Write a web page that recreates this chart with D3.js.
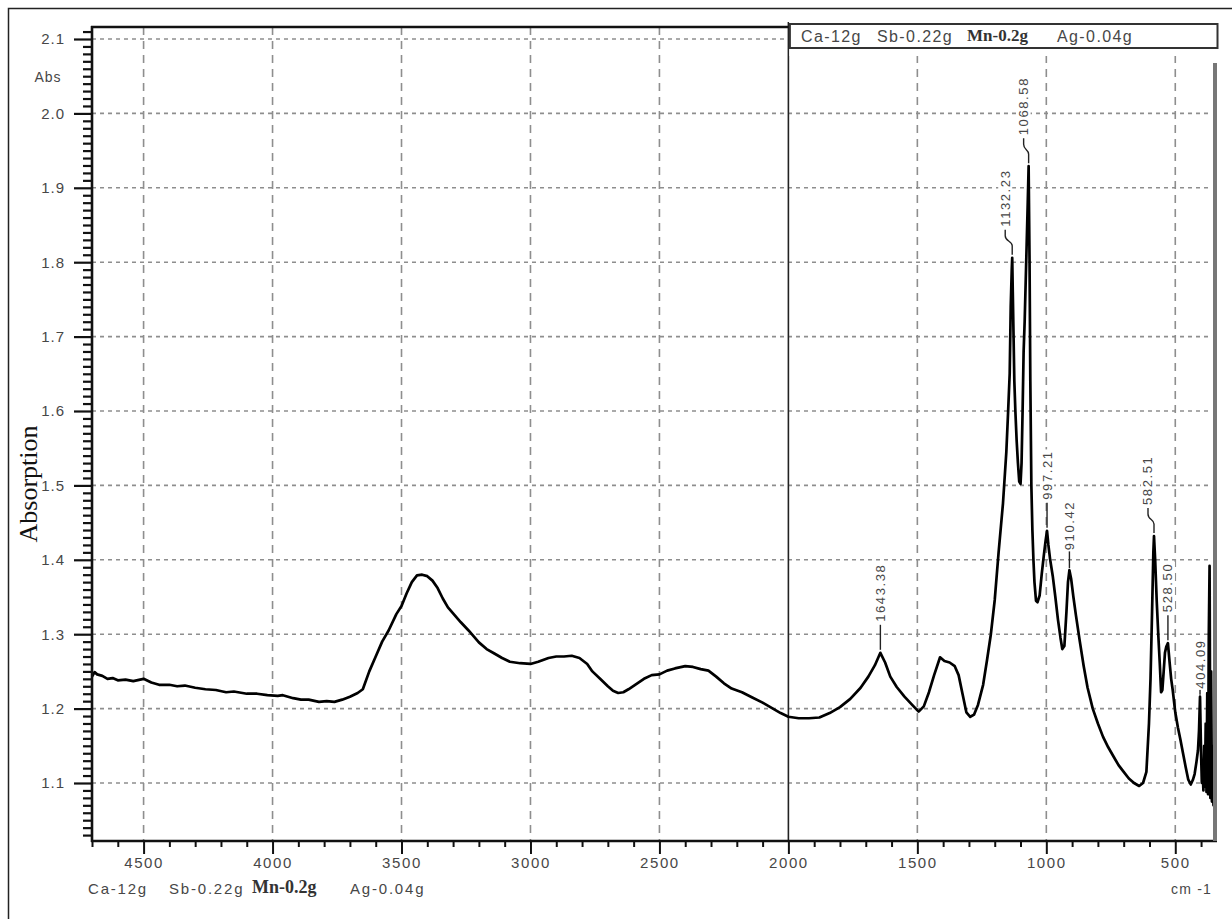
<!DOCTYPE html>
<html>
<head>
<meta charset="utf-8">
<script src="https://cdn.jsdelivr.net/npm/d3@7/dist/d3.min.js"></script>
<style>
  html, body { margin: 0; padding: 0; background: #fff; }
  svg { display: block; }
  text { font-family: "Liberation Sans", Arial, sans-serif; }
</style>
</head>
<body>
<svg id="chart" width="1232" height="919"></svg>
<script>
// FTIR absorption spectrum: wavenumber (cm-1) and absorbance (Abs)
const wavenumbers = [
  4700, 4690, 4680, 4660, 4640, 4620, 4600, 4570, 4540, 4500,
  4470, 4440, 4400, 4370, 4340, 4300, 4260, 4220, 4180, 4150,
  4100, 4060, 4020, 3980, 3960, 3920, 3890, 3860, 3820, 3790,
  3760, 3730, 3700, 3670, 3650, 3625, 3600, 3575, 3550, 3520,
  3500, 3480, 3460, 3440, 3420, 3400, 3380, 3360, 3340, 3320,
  3300, 3270, 3240, 3200, 3170, 3140, 3110, 3080, 3040, 3000,
  2970, 2930, 2900, 2870, 2840, 2810, 2780, 2760, 2730, 2700,
  2680, 2660, 2640, 2620, 2590, 2560, 2530, 2500, 2470, 2440,
  2400, 2370, 2340, 2310, 2280, 2250, 2220, 2180, 2140, 2100,
  2060, 2030, 2000, 1960, 1920, 1880, 1840, 1800, 1760, 1720,
  1690, 1665, 1643.38, 1625, 1605, 1580, 1550, 1520, 1495, 1475,
  1455, 1435, 1412, 1395, 1375, 1355, 1340, 1325, 1310, 1295,
  1280, 1265, 1245, 1230, 1215, 1200, 1185, 1168, 1155, 1148,
  1142, 1138, 1134, 1132.23, 1130, 1127, 1124, 1120, 1115, 1110,
  1105, 1100, 1096, 1092, 1088, 1084, 1078, 1072, 1068.58, 1065,
  1062, 1058, 1054, 1050, 1046, 1040, 1034, 1026, 1018, 1010,
  1003, 997.21, 992, 985, 975, 965, 955, 945, 938, 930,
  922, 916, 910.42, 904, 895, 885, 870, 855, 840, 820,
  800, 780, 760, 740, 720, 700, 680, 660, 640, 625,
  612, 602, 596, 590, 585, 582.51, 578, 572, 566, 560,
  555, 550, 545, 540, 535, 528.50, 522, 516, 510, 500,
  490, 480, 470, 460, 450, 440, 432, 425, 418, 412,
  408, 404.09, 400, 397, 394, 391, 388, 385, 382, 379,
  376, 373, 370, 367, 364, 361, 358, 355, 352, 349
];
const absorbance = [
  1.243, 1.249, 1.246, 1.244, 1.240, 1.241, 1.238, 1.239, 1.237, 1.240,
  1.235, 1.232, 1.232, 1.230, 1.231, 1.228, 1.226, 1.225, 1.222, 1.223,
  1.220, 1.220, 1.218, 1.217, 1.218, 1.214, 1.212, 1.212, 1.209, 1.210,
  1.209, 1.212, 1.216, 1.221, 1.226, 1.250, 1.270, 1.290, 1.305, 1.327,
  1.338, 1.355, 1.370, 1.379, 1.380, 1.378, 1.372, 1.362, 1.348, 1.336,
  1.328, 1.316, 1.305, 1.289, 1.280, 1.274, 1.268, 1.263, 1.261, 1.260,
  1.263, 1.268, 1.270, 1.270, 1.271, 1.268, 1.260, 1.250, 1.240, 1.230,
  1.224, 1.221, 1.222, 1.226, 1.233, 1.240, 1.245, 1.246, 1.251, 1.254,
  1.257, 1.256, 1.253, 1.251, 1.243, 1.234, 1.227, 1.222, 1.215, 1.208,
  1.200, 1.194, 1.189, 1.187, 1.187, 1.188, 1.194, 1.202, 1.213, 1.228,
  1.243, 1.258, 1.275, 1.262, 1.243, 1.229, 1.216, 1.205, 1.196, 1.203,
  1.222, 1.245, 1.269, 1.264, 1.262, 1.257, 1.245, 1.220, 1.195, 1.189,
  1.192, 1.205, 1.232, 1.265, 1.300, 1.346, 1.410, 1.476, 1.545, 1.600,
  1.650, 1.740, 1.790, 1.806, 1.760, 1.700, 1.640, 1.600, 1.560, 1.530,
  1.505, 1.502, 1.530, 1.600, 1.680, 1.720, 1.800, 1.880, 1.929, 1.800,
  1.640, 1.500, 1.440, 1.400, 1.370, 1.345, 1.343, 1.352, 1.380, 1.405,
  1.425, 1.439, 1.420, 1.400, 1.378, 1.350, 1.320, 1.295, 1.280, 1.284,
  1.330, 1.370, 1.386, 1.375, 1.350, 1.325, 1.290, 1.257, 1.228, 1.200,
  1.180, 1.162, 1.148, 1.136, 1.124, 1.115, 1.106, 1.100, 1.096, 1.100,
  1.115, 1.180, 1.240, 1.330, 1.410, 1.432, 1.400, 1.345, 1.300, 1.260,
  1.222, 1.225, 1.250, 1.275, 1.283, 1.288, 1.262, 1.240, 1.225, 1.195,
  1.175, 1.158, 1.140, 1.122, 1.105, 1.098, 1.104, 1.112, 1.128, 1.144,
  1.170, 1.216, 1.140, 1.100, 1.120, 1.090, 1.150, 1.095, 1.180, 1.088,
  1.221, 1.085, 1.300, 1.392, 1.080, 1.250, 1.075, 1.150, 1.070, 1.075
];

// Labelled band positions
const peakWavenumbers = [1643.38, 1132.23, 1068.58, 997.21, 910.42, 582.51, 528.50, 404.09];
const peakAbsorbance  = [1.275, 1.806, 1.929, 1.439, 1.386, 1.432, 1.288, 1.216];

// Axis ticks
const xTickValues = [4500, 4000, 3500, 3000, 2500, 2000, 1500, 1000, 500];
const yTickValues = [1.1, 1.2, 1.3, 1.4, 1.5, 1.6, 1.7, 1.8, 1.9, 2.0, 2.1];
const yTickLabels = ["1.1", "1.2", "1.3", "1.4", "1.5", "1.6", "1.7", "1.8", "1.9", "2.0", "2.1"];

// Sample composition
const sampleParts = ["Ca-12g", "Sb-0.22g", "Mn-0.2g", "Ag-0.04g"];

const svg = d3.select("#chart");
const L = 92, R = 1215, T = 27, B = 841;
const labelInk = "#474747";

const x = d3.scaleLinear().domain([4700, 346]).range([L, R]);
const y = d3.scaleLinear().domain([1.1, 2.1]).range([783, 39]);

// outer frame
svg.append("rect")
  .attr("x", 8.5).attr("y", 8.5).attr("width", 1260).attr("height", 940)
  .attr("fill", "none").attr("stroke", "#222").attr("stroke-width", 1.5);

// grid
const grid = svg.append("g");
grid.selectAll("line.h").data(yTickValues).join("line")
  .attr("x1", L).attr("x2", R - 3)
  .attr("y1", d => y(d)).attr("y2", d => y(d))
  .attr("stroke", "#8e8e8e").attr("stroke-width", 1.6)
  .attr("stroke-dasharray", "4,4");
grid.selectAll("line.v").data(xTickValues.filter(v => v !== 2000)).join("line")
  .attr("x1", d => x(d)).attr("x2", d => x(d))
  .attr("y1", T).attr("y2", B)
  .attr("stroke", "#8e8e8e").attr("stroke-width", 1.6)
  .attr("stroke-dasharray", "8,6");

// solid marker at 2000 cm-1
svg.append("line")
  .attr("x1", x(2000)).attr("x2", x(2000))
  .attr("y1", 22).attr("y2", B)
  .attr("stroke", "#222").attr("stroke-width", 1.6);

// legend box across the top right
svg.append("rect")
  .attr("x", x(2000) + 1).attr("y", 22).attr("width", R + 2 - x(2000) - 1).attr("height", 34)
  .attr("fill", "#fff");
svg.append("rect")
  .attr("x", x(2000) + 1.5).attr("y", 24).attr("width", R + 1 - x(2000)).attr("height", 24)
  .attr("fill", "#fff").attr("stroke", "#333").attr("stroke-width", 2);

function compositionText(g, xs, baseline, sans, serif, spacing) {
  sampleParts.forEach((s, i) => {
    const isMn = s.startsWith("Mn");
    g.append("text")
      .attr("x", xs[i]).attr("y", baseline + (isMn ? -1 : 0))
      .style("font-family", isMn ? "'Liberation Serif', 'Times New Roman', serif" : null)
      .style("font-size", (isMn ? serif : sans) + "px")
      .style("font-weight", isMn ? "bold" : "normal")
      .style("letter-spacing", isMn ? "0px" : spacing + "px")
      .attr("fill", isMn ? "#333" : labelInk)
      .text(s);
  });
}
compositionText(svg.append("g"), [801, 877, 967, 1057], 42, 16, 17, 1.4);

// peak annotations: gap from the band to the label and sideways shift of the label
const labelGap = { "910.42": 20, "404.09": 8 };
const labelShift = { "1132.23": -7, "1068.58": -5, "582.51": -6 };
const ann = svg.append("g");
peakWavenumbers.forEach((w, i) => {
  const label = w.toFixed(2);
  const px = x(w), py = y(peakAbsorbance[i]);
  const gap = labelGap[label] || 31;
  const tx = px + (labelShift[label] || 0);
  if (gap >= 25) {
    ann.append("path")
      .attr("d", `M${px},${py - 3} V${py - 12} C${px},${py - 17} ${tx},${py - 16} ${tx},${py - 22} V${py - gap + 3}`)
      .attr("fill", "none").attr("stroke", "#222").attr("stroke-width", 1.4);
  } else {
    ann.append("line")
      .attr("x1", px).attr("x2", px).attr("y1", py - 2).attr("y2", py - gap + 1)
      .attr("stroke", "#222").attr("stroke-width", 1.4);
  }
  const g = ann.append("g").attr("transform", `translate(${tx},${py - gap}) rotate(-90)`);
  const bg = g.append("rect").attr("fill", "#fff");
  const t = g.append("text")
    .attr("dominant-baseline", "central")
    .style("font-size", "13px").style("letter-spacing", "1.6px")
    .attr("fill", labelInk)
    .text(label);
  const len = t.node().getComputedTextLength();
  bg.attr("x", -1).attr("y", -7).attr("width", len + 2).attr("height", 14);
});

// curve
const line = d3.line().x((d, i) => x(wavenumbers[i])).y((d, i) => y(absorbance[i]));
svg.append("path")
  .datum(absorbance)
  .attr("d", line)
  .attr("fill", "none").attr("stroke", "#000")
  .attr("stroke-width", 2.7).attr("stroke-linejoin", "round");

// left axis
const yMinor = d3.range(103, 212).map(v => v / 100).filter(v => Math.round(v * 100) % 10 !== 0);
const yAxisMinor = svg.append("g").attr("transform", `translate(${L},0)`)
  .call(d3.axisLeft(y).tickValues(yMinor).tickSize(9).tickFormat(""));
const yAxis = svg.append("g").attr("transform", `translate(${L},0)`)
  .call(d3.axisLeft(y).tickValues(yTickValues).tickSize(18).tickPadding(9)
    .tickFormat((d, i) => yTickLabels[i]));
[yAxisMinor, yAxis].forEach(g => {
  g.select(".domain").remove();
  g.selectAll(".tick line").attr("stroke", "#111").attr("stroke-width", 2.2);
});
yAxis.selectAll(".tick text")
  .style("font-size", "15px").style("letter-spacing", "1px").attr("fill", labelInk);

// bottom axis
const xMinor = d3.range(4700, 300, -100).filter(v => v % 500 !== 0);
const xAxisMinor = svg.append("g").attr("transform", `translate(0,${B})`)
  .call(d3.axisBottom(x).tickValues(xMinor).tickSize(6).tickFormat(""));
const xAxis = svg.append("g").attr("transform", `translate(0,${B})`)
  .call(d3.axisBottom(x).tickValues(xTickValues).tickSize(13).tickPadding(3)
    .tickFormat(d3.format("d")));
[xAxisMinor, xAxis].forEach(g => {
  g.select(".domain").remove();
  g.selectAll(".tick line").attr("stroke", "#111").attr("stroke-width", 2);
});
xAxis.selectAll(".tick text")
  .style("font-size", "15px").style("letter-spacing", "1.6px").attr("fill", labelInk);

// plot frame
svg.append("line").attr("x1", L).attr("x2", L).attr("y1", T - 1).attr("y2", B + 1)
  .attr("stroke", "#111").attr("stroke-width", 2.6);
svg.append("line").attr("x1", L - 1).attr("x2", R + 2).attr("y1", B).attr("y2", B)
  .attr("stroke", "#111").attr("stroke-width", 2.6);
svg.append("line").attr("x1", L - 1).attr("x2", x(2000)).attr("y1", T).attr("y2", T)
  .attr("stroke", "#111").attr("stroke-width", 2.6);
svg.append("line").attr("x1", R).attr("x2", R).attr("y1", 63).attr("y2", B)
  .attr("stroke", "#777").attr("stroke-width", 4);

// axis titles
svg.append("text").attr("x", 48).attr("y", 82).attr("text-anchor", "middle")
  .style("font-size", "14px").style("letter-spacing", "1px").attr("fill", labelInk).text("Abs");
svg.append("text")
  .attr("transform", "translate(28,484) rotate(-90)")
  .attr("text-anchor", "middle").attr("dominant-baseline", "central")
  .style("font-family", "'Liberation Serif', 'Times New Roman', serif")
  .style("font-size", "26px").attr("fill", "#111")
  .text("Absorption");
svg.append("text").attr("x", 1212).attr("y", 894).attr("text-anchor", "end")
  .style("font-size", "14px").style("letter-spacing", "1.2px").attr("fill", labelInk).text("cm -1");

compositionText(svg.append("g"), [88, 169, 252, 350], 894, 15, 18, 1.8);
</script>
</body>
</html>
